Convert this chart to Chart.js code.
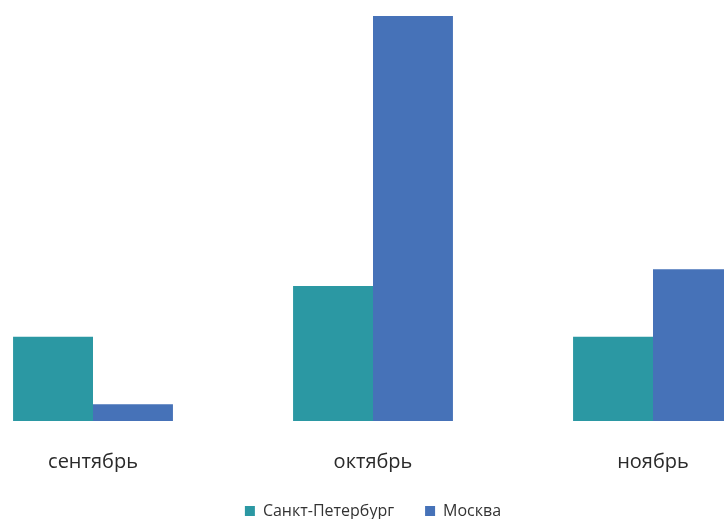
<!DOCTYPE html>
<html>
<head>
<meta charset="utf-8">
<script src="https://cdn.jsdelivr.net/npm/chart.js@4/dist/chart.umd.min.js"></script>
<style>
html,body{margin:0;padding:0;background:#fff;}
#wrap{position:relative;width:724px;height:519px;overflow:hidden;}
#c{position:absolute;left:-47px;top:0;}
</style>
</head>
<body>
<div id="wrap"><canvas id="c" width="840" height="519"></canvas></div>
<script>
const categories = ["сентябрь", "октябрь", "ноябрь"];
const seriesNames = ["Санкт-Петербург", "Москва"];
const spbValues = [5, 8, 5];
const moscowValues = [1, 24, 9];
const colors = ["#2b98a3", "#4672b8"];

new Chart(document.getElementById('c'), {
  type: 'bar',
  data: {
    labels: categories,
    datasets: [
      {label: seriesNames[0], data: spbValues, backgroundColor: colors[0], borderWidth: 0},
      {label: seriesNames[1], data: moscowValues, backgroundColor: colors[1], borderWidth: 0}
    ]
  },
  options: {
    responsive: false,
    animation: false,
    devicePixelRatio: 1,
    categoryPercentage: 0.571,
    barPercentage: 1,
    layout: {padding: {top: 16, bottom: -10, left: 0, right: 0}},
    plugins: {
      tooltip: {enabled: false},
      legend: {
        position: 'bottom',
        labels: {
          font: {family: "Open Sans", size: 16},
          color: '#333333',
          boxWidth: 10,
          boxHeight: 10,
          padding: 31
        }
      }
    },
    scales: {
      x: {
        grid: {display: false, drawTicks: false},
        border: {display: false},
        ticks: {font: {family: "Open Sans", size: 20}, color: '#2a2a2a', padding: 29},
        afterFit: function (scale) { scale.height = 51; }
      },
      y: {display: false, min: 0, max: 24}
    }
  }
});
</script>
</body>
</html>
